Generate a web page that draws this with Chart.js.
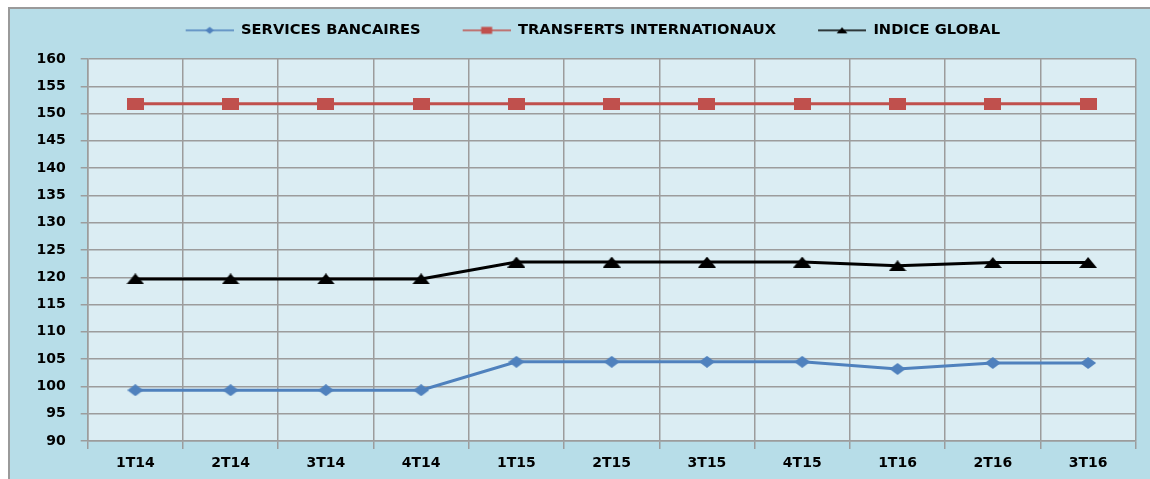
<!DOCTYPE html>
<html><head><meta charset="utf-8">
<script src="https://cdn.jsdelivr.net/npm/chart.js@4"></script>
<style>
html,body{margin:0;padding:0;background:#fff;width:1150px;height:479px;overflow:hidden}
#frame{position:absolute;left:8px;top:7px;width:1140px;height:470px;border-left:2px solid #9a9a9a;border-top:2px solid #9a9a9a;background:#b7dde8}
#c{display:block}
</style></head><body>
<div id="frame"><canvas id="c" width="1140" height="470"></canvas></div>
<script>
const categories = ['1T14','2T14','3T14','4T14','1T15','2T15','3T15','4T15','1T16','2T16','3T16'];
const servicesBancaires = [99.3, 99.3, 99.3, 99.3, 104.5, 104.5, 104.5, 104.5, 103.2, 104.3, 104.3];
const transfertsInternationaux = [151.8, 151.8, 151.8, 151.8, 151.8, 151.8, 151.8, 151.8, 151.8, 151.8, 151.8];
const indiceGlobal = [119.7, 119.7, 119.7, 119.7, 122.8, 122.8, 122.8, 122.8, 122.1, 122.7, 122.7];
const seriesNames = ['SERVICES BANCAIRES','TRANSFERTS INTERNATIONAUX','INDICE GLOBAL'];
const yMin = 90, yMax = 160, yStep = 5;

const BLUE = '#4f81bd', RED = '#c0504d', BLACK = '#000000';
const FONT = "'DejaVu Sans', sans-serif";

function shapePath(g, shape, x, y, w, h){
  g.beginPath();
  if (shape === 'rect') { g.rect(x, y, w, h); }
  else if (shape === 'tri') { g.moveTo(x + w/2, y); g.lineTo(x + w, y + h); g.lineTo(x, y + h); g.closePath(); }
  else { g.moveTo(x + w/2, y); g.lineTo(x + w, y + h/2); g.lineTo(x + w/2, y + h); g.lineTo(x, y + h/2); g.closePath(); }
}
function makeMarker(shape, w, h, color){
  const c = document.createElement('canvas'); c.width = w; c.height = h;
  const g = c.getContext('2d'); g.fillStyle = color; shapePath(g, shape, 0, 0, w, h); g.fill();
  return c;
}
const LEG_MARGIN = 28, LEG_LINE = 48;
function makeLegendImg(shape, w, h, color){
  const W = LEG_MARGIN + LEG_LINE, H = 12;
  const c = document.createElement('canvas'); c.width = W; c.height = H;
  const g = c.getContext('2d');
  g.strokeStyle = color; g.lineWidth = 1.6;
  g.beginPath(); g.moveTo(LEG_MARGIN, H/2); g.lineTo(W, H/2); g.stroke();
  g.fillStyle = color; shapePath(g, shape, LEG_MARGIN + LEG_LINE/2 - w/2, H/2 - h/2, w, h); g.fill();
  return c;
}
const markers = [makeMarker('diamond', 16, 12, BLUE), makeMarker('rect', 17, 12, RED), makeMarker('tri', 18, 11, BLACK)];
const legendImgs = [makeLegendImg('diamond', 9, 7, BLUE), makeLegendImg('rect', 11, 7, RED), makeLegendImg('tri', 11, 6, BLACK)];

const plotBg = {
  id: 'plotBg',
  beforeDraw(chart){
    const {ctx, chartArea: a} = chart;
    ctx.save(); ctx.fillStyle = '#dbedf3'; ctx.fillRect(a.left, a.top, a.right - a.left, a.bottom - a.top); ctx.restore();
  }
};
const legendTune = {
  id: 'legendTune',
  beforeInit(chart){
    const fit = chart.legend.fit;
    chart.legend.fit = function(){ fit.call(this); this.height = 50; };
  },
  afterLayout(chart){
    chart.legend.left += 6; chart.legend.right += 6;
  }
};

const colors = [BLUE, RED, BLACK];
const seriesData = [servicesBancaires, transfertsInternationaux, indiceGlobal];

new Chart(document.getElementById('c'), {
  type: 'line',
  data: {
    labels: categories,
    datasets: seriesData.map((d, i) => ({
      label: seriesNames[i],
      data: d,
      borderColor: colors[i],
      backgroundColor: colors[i],
      borderWidth: 3,
      pointStyle: markers[i],
      pointRadius: 6,
      tension: 0,
      fill: false
    }))
  },
  options: {
    responsive: false,
    animation: false,
    layout: { padding: { left: 0, right: 14.3, top: 0, bottom: 0 } },
    plugins: {
      tooltip: { enabled: false },
      legend: {
        position: 'top',
        labels: {
          usePointStyle: true,
          pointStyleWidth: LEG_MARGIN + LEG_LINE,
          padding: 14,
          color: '#000',
          font: { family: FONT, size: 14.7, weight: 'bold' },
          generateLabels(chart){
            const items = Chart.defaults.plugins.legend.labels.generateLabels(chart);
            items.forEach((it, i) => { it.pointStyle = legendImgs[i]; });
            return items;
          }
        }
      }
    },
    scales: {
      x: {
        offset: true,
        grid: { offset: true, color: '#9c9c9c', lineWidth: 1.5, tickLength: 8 },
        border: { color: '#9c9c9c', width: 1.5 },
        ticks: { color: '#000', padding: 6, font: { family: FONT, size: 14, weight: 'bold' } },
        afterFit(s){ s.height = 38; }
      },
      y: {
        min: yMin, max: yMax,
        grid: { color: '#9c9c9c', lineWidth: 1.5, tickLength: 7 },
        border: { color: '#9c9c9c', width: 1.5 },
        ticks: { stepSize: yStep, color: '#000', padding: 15, font: { family: FONT, size: 14, weight: 'bold' } },
        afterFit(s){ s.width = 77.7; }
      }
    }
  },
  plugins: [plotBg, legendTune]
});
</script>
</body></html>
